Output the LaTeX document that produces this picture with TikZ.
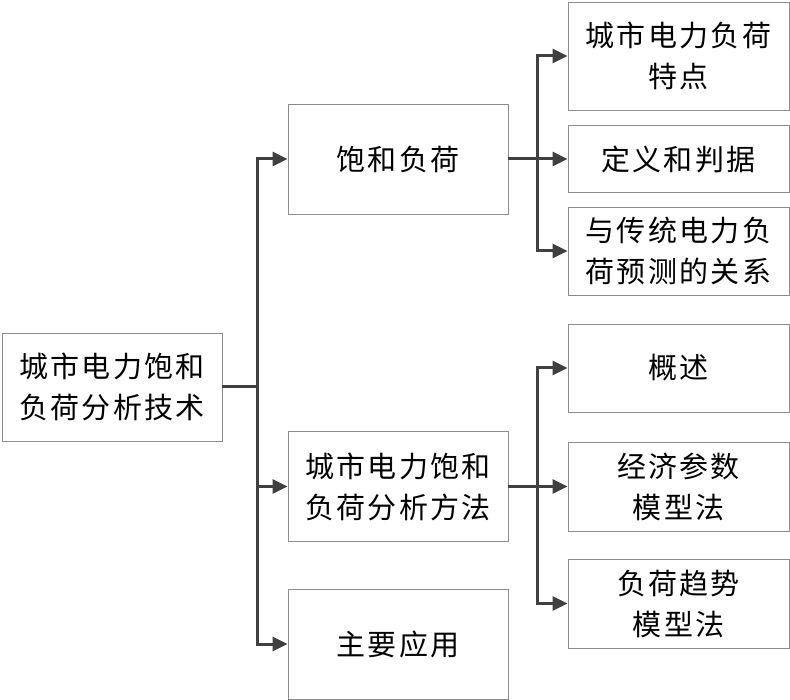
\documentclass[tikz,border=0pt]{standalone}
\usepackage{fontspec}
\newfontfamily\cjk[LetterSpace=8]{Noto Sans CJK SC}
\usetikzlibrary{arrows.meta}
\definecolor{boxgray}{HTML}{8C8C8C}
\definecolor{linegray}{HTML}{404040}
\begin{document}
\begin{tikzpicture}[x=1pt,y=-1pt,
  every node/.style={inner sep=0pt,align=center,font=\cjk\fontsize{29}{41}\selectfont},
  box/.style={draw=boxgray,line width=0.9pt,minimum width=220pt},
  conn/.style={draw=linegray,line width=3pt},
  arr/.style={conn,-{Triangle[length=15pt,width=14pt]}}]
\useasboundingbox (0,0) rectangle (790,700);
% left
\node [box,minimum height=108pt] (root) at (112,387) {城市电力饱和\\负荷分析技术};
% middle column
\node [box,minimum height=110pt] (sat) at (398,159) {饱和负荷};
\node [box,minimum height=110pt] (method) at (398,486.5) {城市电力饱和\\负荷分析方法};
\node [box,minimum height=110pt] (app) at (398,644) {主要应用};
% right column
\node [box,minimum width=221pt,minimum height=108pt] (feat) at (678.5,56) {城市电力负荷\\特点};
\node [box,minimum width=221pt,minimum height=67pt] (def) at (678.5,159) {定义和判据};
\node [box,minimum width=221pt,minimum height=88pt] (rel) at (678.5,251) {与传统电力负\\荷预测的关系};
\node [box,minimum width=221pt,minimum height=88pt] (over) at (678.5,368) {概述};
\node [box,minimum width=221pt,minimum height=89pt] (econ) at (678.5,486.5) {经济参数\\模型法};
\node [box,minimum width=221pt,minimum height=89pt] (trend) at (678.5,603.5) {负荷趋势\\模型法};
% connectors
\coordinate (t0) at (257,387);
\draw [conn] (root.east) -- (t0);
\draw [arr] (t0) |- (sat.west);
\draw [arr] (t0) |- (method.west);
\draw [arr] (t0) |- (app.west);
\coordinate (t1) at (537,159);
\draw [conn] (sat.east) -- (t1);
\draw [arr] (t1) |- (feat.west);
\draw [arr] (t1) -- (def.west);
\draw [arr] (t1) |- (rel.west);
\coordinate (t2) at (537,486.5);
\draw [conn] (method.east) -- (t2);
\draw [arr] (t2) |- (over.west);
\draw [arr] (t2) -- (econ.west);
\draw [arr] (t2) |- (trend.west);
\end{tikzpicture}
\end{document}
